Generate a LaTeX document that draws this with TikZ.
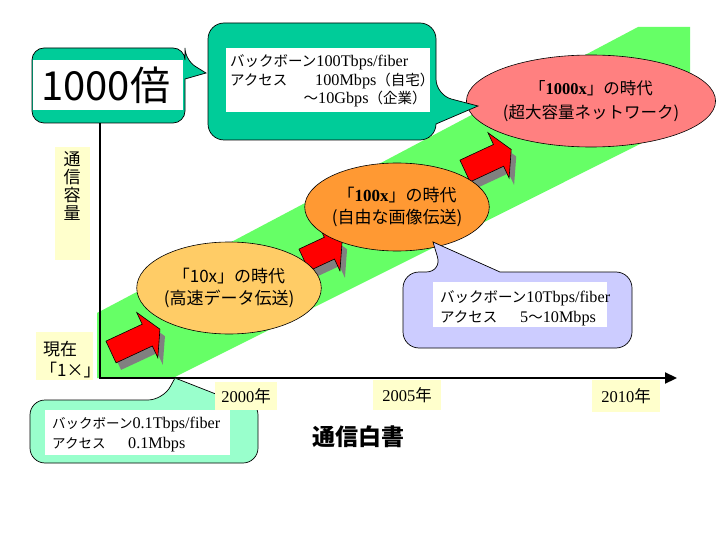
\documentclass[tikz,border=0pt]{standalone}
\usepackage{fontspec}
\setmainfont{Liberation Serif}
\newfontfamily\jp{Noto Sans CJK JP}
\usetikzlibrary{shapes.geometric,arrows.meta}
\definecolor{teal1}{RGB}{0,204,153}
\definecolor{band}{RGB}{102,255,102}
\definecolor{ora1}{RGB}{255,204,102}
\definecolor{ora2}{RGB}{255,153,51}
\definecolor{pink1}{RGB}{255,128,128}
\definecolor{lav}{RGB}{204,204,255}
\definecolor{mint}{RGB}{153,255,204}
\definecolor{lblbg}{RGB}{255,255,204}
\definecolor{shd}{RGB}{128,128,128}
\newcommand\fs[2]{\fontsize{#1}{#2}\selectfont}
\newcommand\lat[1]{{\rmfamily\fontsize{16.2}{18}\selectfont #1}}
\newcommand\redarr[3]{%
  \begin{scope}[shift={(#1+5,#2+7)},rotate=25]
    \fill[shd] (0,-12) -- (#3,-12) -- (#3,-25) -- (#3+14,0) -- (#3,25) -- (#3,12) -- (0,12) -- cycle;
  \end{scope}
  \begin{scope}[shift={(#1,#2)},rotate=25]
    \filldraw[fill=red,draw=black,line width=0.6pt] (0,-12) -- (#3,-12) -- (#3,-25) -- (#3+14,0) -- (#3,25) -- (#3,12) -- (0,12) -- cycle;
  \end{scope}}
\begin{document}
\begin{tikzpicture}[x=1pt,y=-1pt,
  lbl/.style={fill=lblbg,inner sep=0pt},
  era/.style={ellipse,draw=black,line width=0.6pt,inner sep=0pt,align=center},
  whitebox/.style={fill=white,inner sep=0pt},
  callout/.style={draw=black,line width=0.7pt},
  axisline/.style={line width=2.2pt,black},
  txt/.style={inner sep=0pt,anchor=base west}]
\useasboundingbox (0,0) rectangle (720,540);
\fill[white] (0,0) rectangle (720,540);

% band
\fill[band] (97,313) -- (638,27) -- (690,27) -- (690,119) -- (173,378) -- (97,378) -- cycle;

% axes
\coordinate (ytop) at (100,123);
\coordinate (origin) at (100,378);
\coordinate (xend) at (677,378);
\draw[axisline,-{Triangle[length=12pt,width=11pt]}] (ytop) -- (origin) -- (xend);

% red arrows
\redarr{111}{352}{40}
\redarr{304}{260}{28}
\redarr{465}{171}{37}

% ellipses
\node[era,fill=ora1,minimum width=168pt,minimum height=92pt,font=\jp\fs{17}{22}] (e10) at (229,288) {「10x」の時代\\(高速データ伝送)};
\node[era,fill=ora2,minimum width=156pt,minimum height=88pt,font=\fs{17}{22}] (e100) at (397,207) {{\jp 「}\textbf{100x}{\jp 」の時代}\\{\jp (自由な画像伝送)}};
\node[era,fill=pink1,minimum width=192pt,minimum height=92pt,font=\fs{16.5}{24}] (e1000) at (591,101) {{\jp 「}\textbf{1000x}{\jp 」の時代}\\{\jp (超大容量ネットワーク)}};

% callouts
\filldraw[callout,fill=teal1,rounded corners=12pt] (110,48) -- (185,48) -- (185,60) [sharp corners] -- (206,73) -- (185,79) [rounded corners=12pt] -- (185,123) -- (32,123) -- (32,48) -- cycle;
\filldraw[callout,fill=teal1,rounded corners=16pt] (320,23) -- (436,23) -- (436,95) [sharp corners] -- (478,106) -- (436,124) [rounded corners=16pt] -- (436,140) -- (208,140) -- (208,23) -- cycle;
\filldraw[callout,fill=lav,rounded corners=16pt] (560,272) -- (632,272) -- (632,348) -- (403,348) -- (403,272) -- (442,272) [sharp corners] -- (433,242) -- (500,272) [rounded corners=16pt] -- cycle;
\filldraw[callout,fill=mint,rounded corners=15pt] (100,400) -- (163,400) [sharp corners] -- (175,378) -- (231,400) [rounded corners=15pt] -- (258,400) -- (258,463) -- (30,463) -- (30,400) -- cycle;

% white text boxes
\node[whitebox,minimum width=150pt,minimum height=50pt] (w1000) at (108,85) {};
\node[whitebox,minimum width=204pt,minimum height=64pt] (wbig) at (328,80) {};
\node[whitebox,minimum width=174pt,minimum height=45pt] (wlav) at (520,304.5) {};
\node[whitebox,minimum width=185pt,minimum height=45pt] (wmint) at (137.5,432.5) {};

% texts in boxes
\node[txt,font=\jp\fs{40}{40}] (t1000) at (41,101) {1000倍};
\node[txt,font=\jp\fs{14.5}{18}] (b1) at (230,67) {バックボーン\lat{100Tbps/fiber}};
\node[txt,font=\jp\fs{14.5}{18}] (b2) at (230,85.5) {\makebox[85pt][l]{アクセス}\lat{100Mbps}（自宅）};
\node[txt,font=\jp\fs{14.5}{18}] (b3) at (230,104) {\makebox[88pt][r]{～}\lat{10Gbps}（企業）};
\node[txt,font=\jp\fs{14.5}{18}] (l1) at (440,302) {バックボーン\lat{10Tbps/fiber}};
\node[txt,font=\jp\fs{14.5}{18}] (l2) at (440,322) {\makebox[80pt][l]{アクセス}\lat{5}～\lat{10Mbps}};
\node[txt,font=\jp\fs{13.5}{18}] (m1) at (52,428) {バックボーン\lat{0.1Tbps/fiber}};
\node[txt,font=\jp\fs{13.5}{18}] (m2) at (52,448) {\makebox[76pt][l]{アクセス}\lat{0.1Mbps}};

% labels
\node[lbl,minimum width=35pt,minimum height=113pt] (capbg) at (72.5,203.5) {};
\node[font=\jp\fs{17}{18},align=center,anchor=north,inner sep=0pt] (cap) at (72,151) {通\\信\\容\\量};
\node[lbl,minimum width=57pt,minimum height=48pt] (nowbg) at (64.5,356) {};
\node[txt,font=\jp\fs{17}{18}] (now1) at (43,355) {現在};
\node[txt,font=\jp\fs{17}{18}] (now2) at (40,376) {「1×」};
\node[lbl,minimum width=62pt,minimum height=28pt,font=\fs{16.5}{18}] (y2000) at (246,396) {2000{\jp 年}};
\node[lbl,minimum width=68pt,minimum height=30pt,font=\fs{16.5}{18}] (y2005) at (407,395) {2005{\jp 年}};
\node[lbl,minimum width=68pt,minimum height=32pt,font=\fs{16.5}{18}] (y2010) at (626,396) {2010{\jp 年}};
\node[font=\jp\bfseries\fs{23}{23}] (title) at (358,437) {通信白書};
\end{tikzpicture}
\end{document}
